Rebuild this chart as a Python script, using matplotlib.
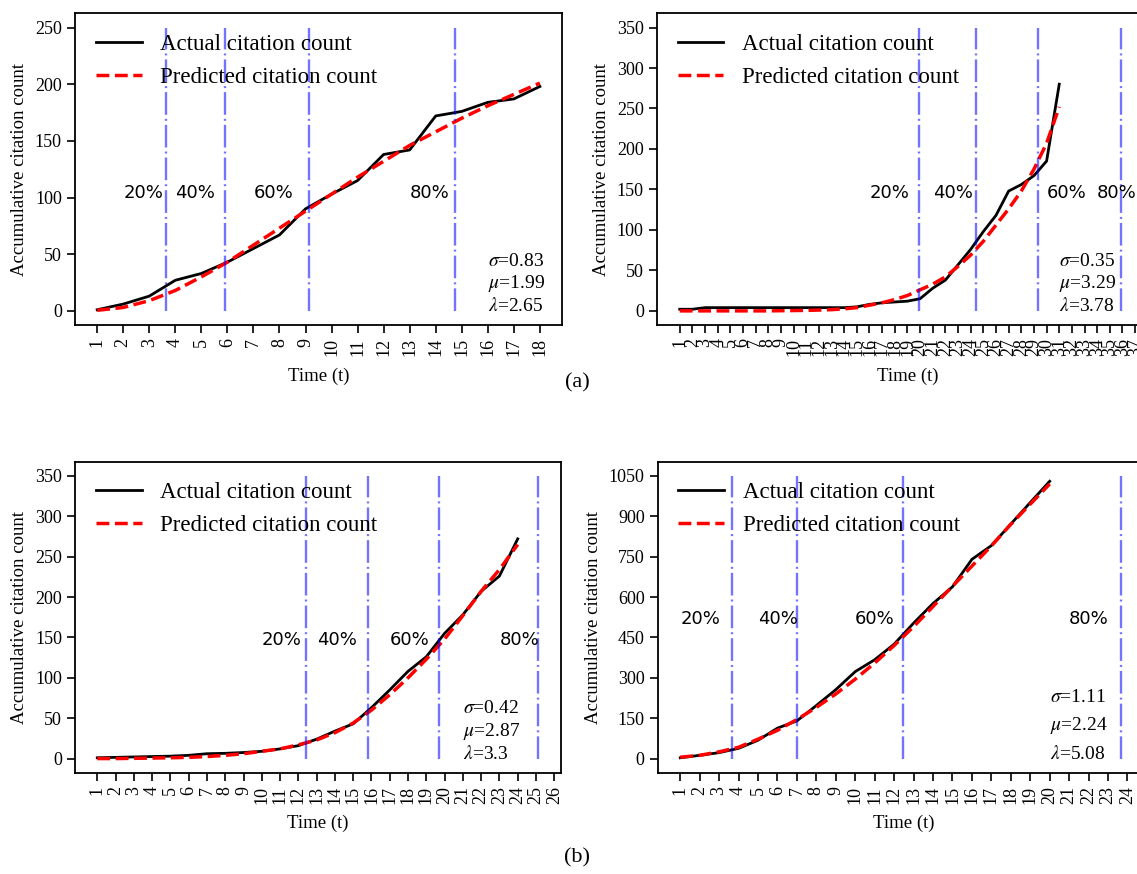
import numpy as np
import matplotlib
matplotlib.use('Agg')
import matplotlib.pyplot as plt

plt.rcParams['font.family'] = 'Liberation Serif'
plt.rcParams['mathtext.fontset'] = 'stix'

# (a) left
t1 = list(range(1, 19))
actual1 = [1, 6, 13, 27, 33, 43, 55, 67, 90, 103, 115, 138, 142, 172, 176, 184, 187, 198]
pred1 = [0.5, 3, 9, 18, 30, 43, 58, 73, 88, 103, 118, 132, 146, 158, 170, 181, 191, 201]
split1 = [3.63, 5.92, 9.12, 14.75]
params1 = ['0.83', '1.99', '2.65']

# (a) right
t2 = list(range(1, 32))
actual2 = [2, 2, 4, 4, 4, 4, 4, 4, 4, 4, 4, 4, 4, 4, 5, 8, 10, 11, 12, 15,
           28, 38, 57, 76, 98, 118, 148, 156, 167, 185, 280]
pred2 = [0, 0, 0, 0, 0, 0, 0, 0, 0.2, 0.4, 0.6, 1, 1.5, 2.5, 4, 7, 10, 14, 19, 26,
         33, 42, 55, 69, 86, 106, 126, 148, 175, 207, 252]
split2 = [19.91, 24.45, 29.34, 35.85]
params2 = ['0.35', '3.29', '3.78']

# (b) left
t3 = list(range(1, 25))
actual3 = [1, 1.5, 2, 2.5, 3, 4, 6, 6.5, 7.5, 9, 12, 16, 24, 34, 43, 63, 85, 108,
           126, 155, 178, 207, 226, 272]
pred3 = [0, 0, 0.3, 0.6, 1, 1.5, 2.5, 4, 6, 9, 12, 17, 23, 32, 44, 60, 79, 100,
         123, 148, 177, 207, 234, 265]
split3 = [12.4, 15.81, 19.69, 25.12]
params3 = ['0.42', '2.87', '3.3']

# (b) right
t4 = list(range(1, 21))
actual4 = [3, 12, 22, 38, 68, 113, 140, 197, 256, 323, 367, 425, 503, 576, 638,
           740, 791, 871, 951, 1030]
pred4 = [5, 12, 25, 42, 72, 105, 145, 190, 240, 295, 355, 420, 490, 565, 640,
         715, 790, 870, 945, 1020]
split4 = [3.68, 7.02, 12.47, 23.68]
params4 = ['1.11', '2.24', '5.08']

pct_labels = ['20%', '40%', '60%', '80%']

fig = plt.figure(figsize=(11.37, 8.74), dpi=100)


def panel(rect, t, actual, pred, split, params, nticks, ystep, ytop, xlim,
          pct_x, pct_y, par_x, par_y):
    ax = fig.add_axes(rect)
    ax.plot(t, actual, color='black', lw=2, label='Actual citation count')
    ax.plot(t, pred, color='red', lw=2.5, ls='--', label='Predicted citation count')
    for s in split:
        ax.vlines(s, 0, ytop, colors='b', alpha=0.55, lw=1.7,
                  linestyles=(0, (9.6, 1.7, 0.85, 1.7)))
    for x, lab in zip(pct_x, pct_labels):
        ax.text(x, pct_y, lab, family='DejaVu Sans', fontsize=13,
                ha='left', va='baseline')
    names = [r'$\sigma$', r'$\mu$', r'$\lambda$']
    for name, val, y in zip(names, params, par_y):
        ax.text(par_x, y, name + '=' + val, fontsize=14, ha='left', va='baseline')
    ax.set_xticks(range(1, nticks + 1))
    ax.set_xticklabels([str(i) for i in range(1, nticks + 1)], rotation=90)
    ax.set_yticks(np.arange(0, ytop + 1, ystep))
    ax.set_xlim(xlim)
    ax.set_ylim(-0.05 * ytop, 1.05 * ytop)
    ax.tick_params(labelsize=13, length=6, width=1.2)
    for sp in ax.spines.values():
        sp.set_linewidth(1.3)
    ax.set_xlabel('Time (t)', fontsize=13.5, labelpad=8)
    ax.set_ylabel('Accumulative citation count', fontsize=13.5, labelpad=5)
    ax.legend(loc='upper left', frameon=False, fontsize=16.5, labelspacing=0.5)
    return ax


panel([0.066, 0.6281, 0.4283, 0.3566], t1, actual1, pred1, split1, params1,
      18, 50, 250, (0.15, 18.85), [2, 4, 7, 13], 100, 16, [40, 20, 0])
panel([0.5778, 0.6281, 0.4406, 0.3566], t2, actual2, pred2, split2, params2,
      37, 50, 350, (-0.8, 38.8), [16, 21, 30, 34], 140, 31, [56, 28, 0])
panel([0.0661, 0.1159, 0.427, 0.3558], t3, actual3, pred3, split3, params3,
      26, 50, 350, (-0.21, 26.35), [10, 13, 17, 23], 140, 21, [56, 28, 0])
panel([0.5786, 0.1159, 0.4327, 0.3558], t4, actual4, pred4, split4, params4,
      24, 150, 1050, (-0.15, 25.15), [1, 5, 10, 21], 500, 20, [210, 105, 0])

fig.text(0.5075, 0.5618, '(a)', fontsize=16, ha='center', va='center')
fig.text(0.5075, 0.0183, '(b)', fontsize=16, ha='center', va='center')

plt.savefig('out.png', dpi=100)
